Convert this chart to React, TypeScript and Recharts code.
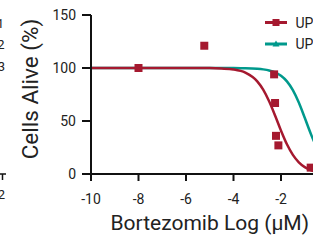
import { ComposedChart, Line, Scatter, XAxis, YAxis } from 'recharts';

const xTicks = [-10, -8, -6, -4, -2, 0];
const yTicks = [0, 50, 100, 150];

// measured points, red series (log µM, % alive)
const up1X = [-8, -5.23, -2.29, -2.25, -2.21, -2.11, -0.75];
const up1Y = [100, 121, 94, 67, 36, 27, 6];

// fitted curves
const curveX = [-10, -8, -6, -5, -4.5, -4, -3.5, -3, -2.75, -2.5, -2.25, -2, -1.75, -1.5, -1.25, -1, -0.75, -0.5, -0.25, 0];
const up1Fit = [100, 100, 100, 99.9, 99.5, 98.6, 95.6, 87.4, 79.6, 68.6, 55.2, 40.9, 28, 18, 11, 6.5, 3.7, 2.1, 1.2, 0.7];
const up2Fit = [100, 100, 100, 100, 100, 99.9, 99.8, 99.3, 98.7, 97.7, 95.9, 92.6, 87.4, 79.1, 67.4, 53, 38.2, 25.2, 15.5, 9.1];

const seriesNames = ['UP1', 'UP2'];
const RED = '#a5192f';
const TEAL = '#00998c';
const FONT = 'Roboto, Arial, sans-serif';

const fitRows = curveX.map((x, i) => ({ x, up1: up1Fit[i], up2: up2Fit[i] }));
const pts = up1X.map((x, i) => ({ x, y: up1Y[i] }));

function LegendBox() {
  return (
    <svg width={60} height={40} style={{ position: 'absolute', left: 265, top: 14, overflow: 'visible', fontFamily: FONT }}>
      <line x1={0} x2={22} y1={8.5} y2={8.5} stroke={RED} strokeWidth={3} />
      <rect x={7.5} y={5} width={7} height={7} fill={RED} />
      <text x={30.5} y={13.5} fontSize={14} fill="#222">{seriesNames[0]}</text>
      <line x1={0} x2={22} y1={30} y2={30} stroke={TEAL} strokeWidth={3} />
      <path d="M11 26.5 L14.5 32.5 L7.5 32.5 Z" fill={TEAL} />
      <text x={30.5} y={35} fontSize={14} fill="#222">{seriesNames[1]}</text>
    </svg>
  );
}

export default function App() {
  return (
    <div style={{ position: 'absolute', left: 0, top: 0, width: 313, height: 240, overflow: 'hidden', background: '#fff', fontFamily: FONT }}>
      {/* edge of the neighbouring panel */}
      <svg width={10} height={240} style={{ position: 'absolute', left: 0, top: 0, fontFamily: FONT }}>
        <text x={4} y={27.5} fontSize={13} textAnchor="end" fill="#222">1</text>
        <text x={4.5} y={49} fontSize={13} textAnchor="end" fill="#222">2</text>
        <text x={5} y={71} fontSize={13} textAnchor="end" fill="#222">3</text>
        <line x1={0} x2={6} y1={174} y2={174} stroke="#111" strokeWidth={1.5} />
        <line x1={2.5} x2={2.5} y1={174} y2={180} stroke="#111" strokeWidth={1.5} />
        <text x={5} y={199} fontSize={13} textAnchor="end" fill="#222">2</text>
      </svg>
      <ComposedChart width={345} height={240} data={fitRows} margin={{ top: 15, right: 16.5, left: 0, bottom: 0 }}>
        <XAxis
          dataKey="x"
          type="number"
          domain={[-10, 0]}
          ticks={xTicks}
          interval={0}
          height={66}
          tickSize={7}
          tickMargin={13}
          stroke="#111"
          strokeWidth={2}
          tick={{ fill: '#222', fontSize: 14 }}
          label={{ value: 'Bortezomib Log (μM)', position: 'insideBottom', offset: 10, fontSize: 21, fill: '#222' }}
        />
        <YAxis
          type="number"
          domain={[0, 150]}
          ticks={yTicks}
          interval={0}
          width={91}
          tickSize={9}
          tickMargin={6}
          stroke="#111"
          strokeWidth={2}
          tick={{ fill: '#222', fontSize: 14 }}
          label={{
            content: () => (
              <text x={37.5} y={89} transform="rotate(-90 37.5 89)" textAnchor="middle" fontSize={22.5} fill="#222">
                Cells Alive (%)
              </text>
            ),
          }}
        />
        <Line dataKey="up2" type="monotone" stroke={TEAL} strokeWidth={2.5} dot={false} isAnimationActive={false} />
        <Line dataKey="up1" type="monotone" stroke={RED} strokeWidth={2.5} dot={false} isAnimationActive={false} />
        <Scatter data={pts} dataKey="y" shape="square" fill={RED} legendType="none" isAnimationActive={false} />
      </ComposedChart>
      <LegendBox />
    </div>
  );
}
